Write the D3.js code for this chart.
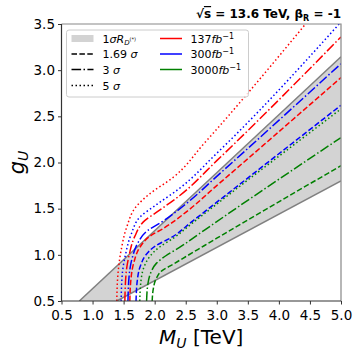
<!DOCTYPE html>
<html>
<head>
<meta charset="utf-8">
<script src="https://cdn.jsdelivr.net/npm/d3@7"></script>
<style>
  body { margin: 0; background: #fff; }
  text { font-family: "DejaVu Sans", sans-serif; }
</style>
</head>
<body>
<svg id="chart" width="360" height="354"></svg>
<script>
// ---- data ----
var xTicks = [0.5, 1.0, 1.5, 2.0, 2.5, 3.0, 3.5, 4.0, 4.5, 5.0];
var yTicks = [0.5, 1.0, 1.5, 2.0, 2.5, 3.0, 3.5];

// 1 sigma R_D(*) band edges [M, g]
var bandUpper = [[0.787, 0.5], [5.0, 3.146]];
var bandLower = [[1.39, 0.5], [5.0, 1.80]];

// reach curves [M, g]
var red5 = [[1.39,0.5],[1.41,0.8],[1.46,1.05],[1.55,1.30],[1.70,1.52],[1.90,1.65],[2.3,1.84],[2.8,2.21],[4.43,3.5]];
var blue5 = [[1.46,0.5],[1.48,0.8],[1.53,1.0],[1.62,1.22],[1.78,1.42],[2.0,1.53],[2.4,1.72],[3.0,2.10],[4.97,3.5]];
var green5 = [[1.76,0.5],[1.78,0.72],[1.83,0.87],[1.92,0.98],[2.07,1.08],[2.3,1.18],[2.6,1.34],[3.0,1.55],[5.0,2.58]];
var red3 = [[1.52,0.5],[1.54,0.8],[1.59,1.0],[1.68,1.20],[1.84,1.37],[2.05,1.47],[2.4,1.64],[3.0,2.02],[5.0,3.36]];
var blue3 = [[1.57,0.5],[1.59,0.78],[1.64,0.97],[1.73,1.13],[1.88,1.26],[2.1,1.35],[2.5,1.55],[3.0,1.85],[5.0,3.07]];
var green3 = [[1.87,0.5],[1.89,0.68],[1.94,0.81],[2.03,0.91],[2.18,0.99],[2.4,1.08],[2.7,1.22],[3.0,1.36],[5.0,2.27]];
var red169 = [[1.60,0.5],[1.62,0.75],[1.67,0.93],[1.76,1.08],[1.92,1.20],[2.15,1.29],[2.5,1.46],[3.0,1.75],[5.0,2.92]];
var blue169 = [[1.70,0.5],[1.72,0.72],[1.77,0.88],[1.86,1.0],[2.02,1.10],[2.25,1.18],[2.6,1.36],[3.0,1.57],[5.0,2.62]];
var green169 = [[1.96,0.5],[1.98,0.64],[2.03,0.75],[2.12,0.83],[2.25,0.88],[2.45,0.96],[2.7,1.06],[3.0,1.18],[5.0,1.965]];

var lumiNames = ["137", "300", "3000"];
var sigmaNames = ["1.69 σ", "3 σ", "5 σ"];

var curves = [
	{pts: red169, color: "#ff0000", style: "dashed"},
	{pts: blue169, color: "#0000ff", style: "dashed"},
	{pts: green169, color: "#008000", style: "dashed"},
	{pts: red3, color: "#ff0000", style: "dashdot"},
	{pts: blue3, color: "#0000ff", style: "dashdot"},
	{pts: green3, color: "#008000", style: "dashdot"},
	{pts: red5, color: "#ff0000", style: "dotted"},
	{pts: blue5, color: "#0000ff", style: "dotted"},
	{pts: green5, color: "#008000", style: "dotted"}
];

var dashes = {dashed: "5.5,2.4", dashdot: "9.6,2.4,1.5,2.4", dotted: "1.5,2.5", solid: null};
var lumiColors = ["#ff0000", "#0000ff", "#008000"];

// ---- layout ----
var svg = d3.select("#chart");
var margin = {left: 61.5, right: 19, top: 24, bottom: 53};
var W = 360, H = 354;

var x = d3.scaleLinear().domain([0.5, 5.0]).range([margin.left, W - margin.right]);
var y = d3.scaleLinear().domain([0.5, 3.5]).range([H - margin.bottom, margin.top]);

svg.append("clipPath").attr("id", "plotclip")
	.append("rect")
	.attr("x", x(0.5)).attr("y", y(3.5))
	.attr("width", x(5.0) - x(0.5)).attr("height", y(0.5) - y(3.5));

var plot = svg.append("g").attr("clip-path", "url(#plotclip)");

// band polygon
var bandPoly = bandUpper.concat(bandLower.slice().reverse());
plot.append("path")
	.attr("d", "M" + bandPoly.map(function(p){ return x(p[0]) + "," + y(p[1]); }).join("L") + "Z")
	.attr("fill", "#d3d3d3");

var straight = d3.line().x(function(d){ return x(d[0]); }).y(function(d){ return y(d[1]); });
[bandUpper, bandLower].forEach(function(b){
	plot.append("path").attr("d", straight(b))
		.attr("fill", "none").attr("stroke", "#808080").attr("stroke-width", 1.5);
});

var smooth = d3.line()
	.x(function(d){ return x(d[0]); })
	.y(function(d){ return y(d[1]); })
	.curve(d3.curveMonotoneY);

curves.forEach(function(c){
	plot.append("path")
		.attr("d", smooth(c.pts))
		.attr("fill", "none")
		.attr("stroke", c.color)
		.attr("stroke-width", 1.5)
		.attr("stroke-dasharray", dashes[c.style]);
});

// axes
var xAxis = svg.append("g")
	.attr("transform", "translate(0," + y(0.5) + ")")
	.call(d3.axisBottom(x).tickValues(xTicks).tickFormat(d3.format(".1f")).tickSizeOuter(0).tickSize(3.5));
var yAxis = svg.append("g")
	.attr("transform", "translate(" + x(0.5) + ",0)")
	.call(d3.axisLeft(y).tickValues(yTicks).tickFormat(d3.format(".1f")).tickSizeOuter(0).tickSize(3.5));

[xAxis, yAxis].forEach(function(a){
	a.select(".domain").remove();
	a.selectAll("text").style("font-size", "13.5px").attr("fill", "#000");
	a.selectAll("line").attr("stroke", "#333");
});
xAxis.selectAll("text").attr("dy", "0.95em");

// frame: left/bottom darker, top/right lighter
var fx0 = x(0.5), fx1 = x(5.0), fy0 = y(3.5), fy1 = y(0.5);
svg.append("path").attr("d", "M" + fx0 + "," + fy0 + "L" + fx1 + "," + fy0 + "L" + fx1 + "," + fy1)
	.attr("fill", "none").attr("stroke", "#888").attr("stroke-width", 1.2);
svg.append("path").attr("d", "M" + fx0 + "," + fy0 + "L" + fx0 + "," + fy1 + "L" + fx1 + "," + fy1)
	.attr("fill", "none").attr("stroke", "#333").attr("stroke-width", 1.2);

// axis labels
var xl = svg.append("text")
	.attr("x", (x(0.5) + x(5.0)) / 2).attr("y", 344)
	.attr("text-anchor", "middle").style("font-size", "20px");
xl.append("tspan").style("font-style", "italic").text("M");
xl.append("tspan").style("font-style", "italic").style("font-size", "14px").attr("dy", 4).text("U");
xl.append("tspan").attr("dy", -4).text(" [TeV]");

var yl = svg.append("text")
	.attr("transform", "translate(24," + ((y(0.5) + y(3.5)) / 2) + ") rotate(-90)")
	.attr("text-anchor", "middle").style("font-size", "21px");
yl.append("tspan").style("font-style", "italic").text("g");
yl.append("tspan").style("font-style", "italic").style("font-size", "14px").attr("dy", 4).text("U");

// title
var tt = svg.append("text")
	.attr("x", 341).attr("y", 18)
	.attr("text-anchor", "end")
	.style("font-size", "12px").style("font-weight", "bold");
tt.append("tspan").text("√");
tt.append("tspan").style("text-decoration", "overline").text("s");
tt.append("tspan").text(" = 13.6 TeV, β");
tt.append("tspan").style("font-size", "8px").attr("dy", 3).text("R");
tt.append("tspan").attr("dy", -3).text(" = -1");

// legend
var leg = svg.append("g");
leg.append("rect")
	.attr("x", 66.5).attr("y", 30).attr("width", 182).attr("height", 67)
	.attr("rx", 2.5)
	.attr("fill", "#fff").attr("fill-opacity", 0.8)
	.attr("stroke", "#ccc").attr("stroke-width", 1);

var rowY = [38.5, 54, 69.5, 85.5];
leg.append("rect").attr("x", 71.5).attr("y", rowY[0] - 3.5).attr("width", 22).attr("height", 7).attr("fill", "#d3d3d3");
var t0 = leg.append("text").attr("x", 102.5).attr("y", rowY[0] + 4).style("font-size", "11px");
t0.append("tspan").text("1");
t0.append("tspan").style("font-style", "italic").text("σR");
t0.append("tspan").style("font-style", "italic").style("font-size", "7px").attr("dy", 2).text("D");
t0.append("tspan").style("font-size", "5px").attr("dy", -4).text("(*)");

["dashed", "dashdot", "dotted"].forEach(function(s, i){
	var yy = rowY[i + 1];
	leg.append("line").attr("x1", 71.5).attr("x2", 93.5).attr("y1", yy).attr("y2", yy)
		.attr("stroke", "#000").attr("stroke-width", 1.5).attr("stroke-dasharray", dashes[s]);
	var parts = sigmaNames[i].split(" ");
	var t = leg.append("text").attr("x", 102.5).attr("y", yy + 4).style("font-size", "11px");
	t.append("tspan").text(parts[0] + " ");
	t.append("tspan").style("font-style", "italic").text(parts[1]);
});

lumiNames.forEach(function(n, i){
	var yy = rowY[i];
	leg.append("line").attr("x1", 160).attr("x2", 182).attr("y1", yy).attr("y2", yy)
		.attr("stroke", lumiColors[i]).attr("stroke-width", 1.5);
	var t = leg.append("text").attr("x", 190.5).attr("y", yy + 4).style("font-size", "11px");
	t.append("tspan").text(n);
	t.append("tspan").style("font-style", "italic").text("fb");
	t.append("tspan").style("font-size", "8px").attr("dy", -4).text("−1");
});
</script>
</body>
</html>
